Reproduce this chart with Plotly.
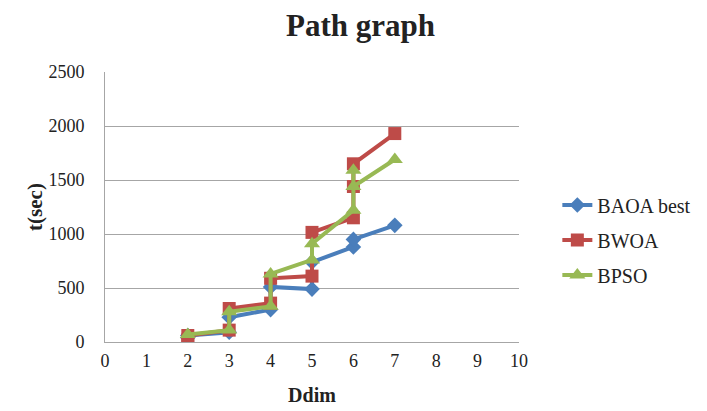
import plotly.graph_objects as go

# Path graph: run time versus dimension for three binary optimisers
baoa_x = [2, 2, 3, 3, 4, 4, 5, 5, 6, 6, 7]
baoa_y = [40, 60, 90, 230, 300, 510, 490, 740, 880, 950, 1080]

bwoa_x = [2, 2, 3, 3, 4, 4, 5, 5, 6, 6, 6, 7]
bwoa_y = [20, 60, 110, 310, 360, 590, 610, 1015, 1150, 1440, 1650, 1930]

bpso_x = [2, 3, 3, 4, 4, 5, 5, 6, 6, 6, 7]
bpso_y = [70, 110, 280, 330, 630, 760, 910, 1220, 1590, 1440, 1690]

x_ticks = list(range(0, 11))
y_ticks = [0, 500, 1000, 1500, 2000, 2500]

FONT = "Liberation Serif"

series = [
    ("BAOA best", baoa_x, baoa_y, "#4A7EBB", "diamond", 12),
    ("BWOA", bwoa_x, bwoa_y, "#BE4B48", "square", 13),
    ("BPSO", bpso_x, bpso_y, "#98B954", "triangle-up", 14),
]

fig = go.Figure()
for i, (name, xs, ys, color, symbol, size) in enumerate(series):
    fig.add_trace(go.Scatter(
        x=xs, y=ys, name=name, mode="lines+markers",
        line=dict(color=color, width=4),
        marker=dict(symbol=symbol, size=size, color=color),
        legendgroup=f"g{i}",
    ))

fig.update_layout(
    width=707, height=411,
    margin=dict(l=105, r=187, t=72, b=69),
    paper_bgcolor="white", plot_bgcolor="white",
    font=dict(family=FONT, size=18, color="#222222"),
    title=dict(text="<b>Path graph</b>", x=0.51, xanchor="center",
               y=0.94, yanchor="middle",
               font=dict(family=FONT, size=31, color="#222222")),
    xaxis=dict(range=[0, 10], tickvals=x_ticks, showgrid=False,
               showline=True, linecolor="#A6A6A6", linewidth=1,
               zeroline=False, ticks="", ticklabelstandoff=2, automargin=False,
               title=dict(text="<b>Ddim</b>", font=dict(size=20), standoff=18)),
    yaxis=dict(range=[0, 2500], tickvals=y_ticks, showgrid=True,
               gridcolor="#A6A6A6", gridwidth=1,
               showline=True, linecolor="#A6A6A6", linewidth=1,
               zeroline=False, ticks="", ticklabelstandoff=16, automargin=False,
               title=dict(text="<b>t(sec)</b>", font=dict(size=21), standoff=0)),
    legend=dict(x=1.09, y=0.378, xanchor="left", yanchor="middle",
                font=dict(size=20), tracegroupgap=6,
                traceorder="grouped", bgcolor="rgba(0,0,0,0)"),
    showlegend=True,
)

fig.write_html("out.html")
